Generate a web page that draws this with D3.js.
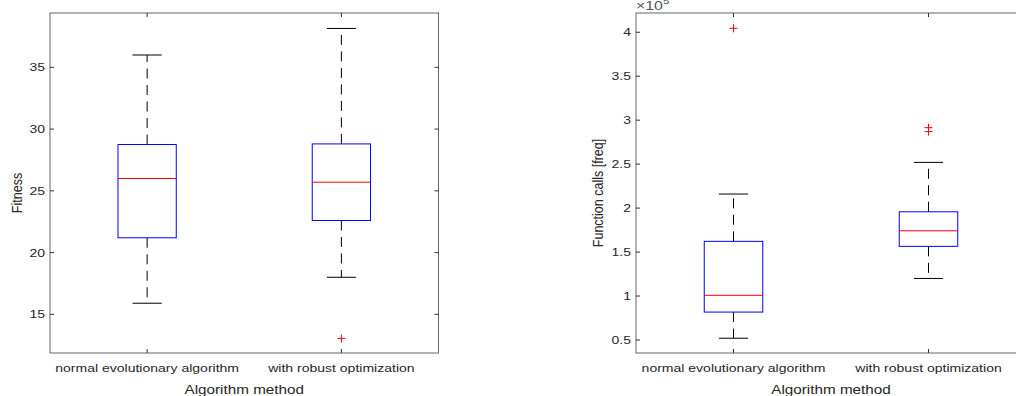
<!DOCTYPE html>
<html>
<head>
<meta charset="utf-8">
<script src="https://cdn.jsdelivr.net/npm/d3@7"></script>
<style>
  body { margin: 0; background: #fff; }
  svg { display: block; }
</style>
</head>
<body>
<script>
// categories and box statistics: [lower whisker, q1, median, q3, upper whisker]
var categories = ["normal evolutionary algorithm", "with robust optimization"];

var fitnessNormal = [15.9, 21.2, 26.0, 28.75, 36.0];
var fitnessRobust = [18.0, 22.6, 25.7, 28.8, 38.15];
var fitnessOutliers = [[], [13.05]];
var fitnessTicks = [15, 20, 25, 30, 35];

var callsNormal = [52000, 81750, 100800, 162200, 216000];
var callsRobust = [120000, 156500, 174200, 195800, 252000];
var callsOutliers = [[404500], [287000, 291500]];
var callsTicks = [50000, 100000, 150000, 200000, 250000, 300000, 350000, 400000];

var w = 1016;
var h = 396;
var plotTop = 13, plotBottom = 353;
var sx = 1.22; // horizontal stretch of the source image text
var font = "'Liberation Sans', Arial, Helvetica, sans-serif";
var textColor = "#262626";

var svg = d3.select("body").append("svg").attr("width", w).attr("height", h)
  .attr("font-family", font);

function hText(g, x, y, str, anchor, size) {
  return g.append("text")
    .attr("transform", "translate(" + x + "," + y + ") scale(" + sx + ",1)")
    .attr("text-anchor", anchor)
    .attr("font-size", size)
    .attr("fill", textColor)
    .text(str);
}

function boxPanel(opt) {
  var g = svg.append("g");
  var x = d3.scaleLinear().domain([0.5, 2.5]).range([opt.left, opt.right]);
  var y = d3.scaleLinear().domain(opt.domain).range([plotBottom, plotTop]);
  var unit = x(2) - x(1);

  opt.stats.forEach(function (s, i) {
    var c = x(i + 1);
    // whiskers
    g.append("line").attr("x1", c).attr("x2", c).attr("y1", y(s[3])).attr("y2", y(s[4]))
      .attr("stroke", "#000").attr("stroke-dasharray", "10,6.5");
    g.append("line").attr("x1", c).attr("x2", c).attr("y1", y(s[1])).attr("y2", y(s[0]))
      .attr("stroke", "#000").attr("stroke-dasharray", "10,6.5");
    // caps
    [s[0], s[4]].forEach(function (v) {
      g.append("line").attr("x1", c - 0.075 * unit).attr("x2", c + 0.075 * unit)
        .attr("y1", y(v)).attr("y2", y(v)).attr("stroke", "#000");
    });
    // box
    g.append("rect").attr("x", c - 0.15 * unit).attr("width", 0.3 * unit)
      .attr("y", y(s[3])).attr("height", y(s[1]) - y(s[3]))
      .attr("fill", "none").attr("stroke", "#0000ff");
    // median
    g.append("line").attr("x1", c - 0.15 * unit).attr("x2", c + 0.15 * unit)
      .attr("y1", y(s[2])).attr("y2", y(s[2])).attr("stroke", "#ff0000");
    // outliers
    opt.outliers[i].forEach(function (v) {
      g.append("path").attr("d", "M-4,0H4M0,-4V4")
        .attr("transform", "translate(" + c + "," + y(v) + ")")
        .attr("stroke", "#ff0000").attr("fill", "none");
    });
  });

  // frame
  g.append("rect").attr("x", opt.left).attr("y", plotTop)
    .attr("width", opt.right - opt.left).attr("height", plotBottom - plotTop)
    .attr("fill", "none").attr("stroke", "#666");

  // y ticks
  opt.ticks.forEach(function (t) {
    var yy = y(t);
    g.append("line").attr("x1", opt.left).attr("x2", opt.left + 4).attr("y1", yy).attr("y2", yy)
      .attr("stroke", "#333");
    g.append("line").attr("x1", opt.right - 4).attr("x2", opt.right).attr("y1", yy).attr("y2", yy)
      .attr("stroke", "#333");
    hText(g, opt.left - 5, yy + 4, opt.format(t), "end", 11.5);
  });

  // x ticks and category labels
  categories.forEach(function (cat, i) {
    var xx = x(i + 1);
    g.append("line").attr("x1", xx).attr("x2", xx).attr("y1", plotBottom).attr("y2", plotBottom - 4)
      .attr("stroke", "#333");
    g.append("line").attr("x1", xx).attr("x2", xx).attr("y1", plotTop).attr("y2", plotTop + 4)
      .attr("stroke", "#333");
    hText(g, xx, 372, cat, "middle", 11.5);
  });

  // axis labels
  hText(g, (opt.left + opt.right) / 2, 393.5, "Algorithm method", "middle", 12.5);
  g.append("text")
    .attr("transform", "translate(" + opt.ylabelX + ",193) rotate(-90) scale(1," + sx + ")")
    .attr("text-anchor", "middle")
    .attr("font-size", 12.5)
    .attr("fill", textColor)
    .text(opt.ylabel);

  return g;
}

boxPanel({
  left: 50, right: 438.5,
  domain: [11.87, 39.4],
  stats: [fitnessNormal, fitnessRobust],
  outliers: fitnessOutliers,
  ticks: fitnessTicks,
  format: function (v) { return String(v); },
  ylabel: "Fitness",
  ylabelX: 21.5
});

var right = boxPanel({
  left: 636, right: 1026,
  domain: [35200, 421900],
  stats: [callsNormal, callsRobust],
  outliers: callsOutliers,
  ticks: callsTicks,
  format: function (v) { return String(v / 1e5); },
  ylabel: "Function calls [freq]",
  ylabelX: 602.5
});

// exponent label
var ex = right.append("text")
  .attr("transform", "translate(636,10) scale(" + sx + ",1)")
  .attr("font-size", 13)
  .attr("fill", "#555");
ex.append("tspan").text("\u00d710");
ex.append("tspan").attr("dy", -6).attr("font-size", 9.5).text("5");
</script>
</body>
</html>
